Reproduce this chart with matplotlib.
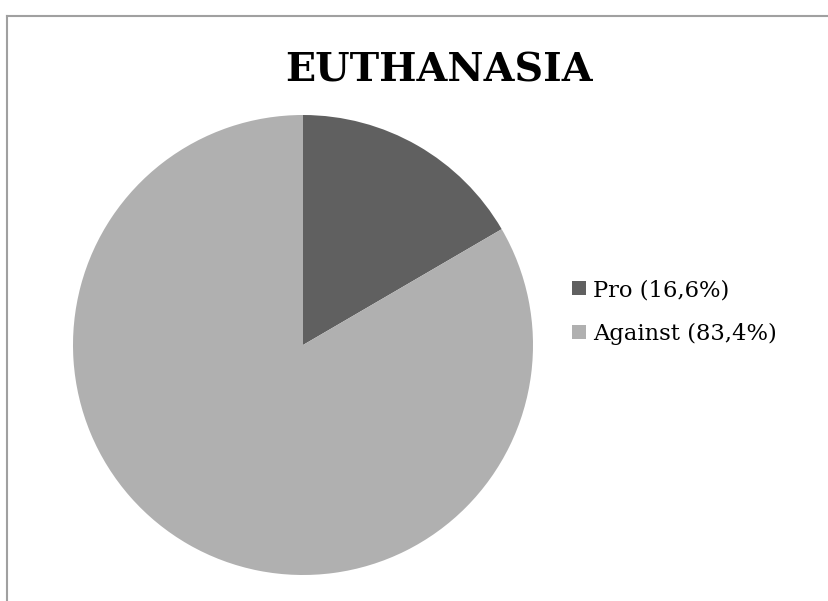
import matplotlib.pyplot as plt
from matplotlib.lines import Line2D
from matplotlib.patches import Patch

labels = ["Pro (16,6%)", "Against (83,4%)"]
values = [16.6, 83.4]
colors = ["#606060", "#b0b0b0"]

W, H = 829, 601
fig = plt.figure(figsize=(W / 100, H / 100), dpi=100)
fig.patch.set_facecolor("white")

# chart frame (cut off at right and bottom)
fig.add_artist(Line2D([7 / W, 7 / W], [0, 1 - 16 / H], color="#a0a0a0", lw=1.5))
fig.add_artist(Line2D([7 / W, 1], [1 - 16 / H, 1 - 16 / H], color="#a0a0a0", lw=1.5))

cx, cy, r = 303, 345, 230
ax = fig.add_axes([(cx - r) / W, (H - cy - r) / H, 2 * r / W, 2 * r / H])
ax.pie(values, colors=colors, startangle=90, counterclock=False, radius=1,
       wedgeprops=dict(linewidth=0))
ax.set_xlim(-1, 1)
ax.set_ylim(-1, 1)
ax.set_aspect("equal")
ax.axis("off")

fig.text(439 / W, 1 - 70 / H, "EUTHANASIA", ha="center", va="center",
         fontsize=28.5, fontweight="bold", family="DejaVu Serif")

handles = [Patch(facecolor=c, edgecolor="none") for c in colors]
fig.legend(handles, labels, loc="upper left", bbox_to_anchor=(552 / W, 1 - 259 / H),
           frameon=False, prop=dict(family="DejaVu Serif", size=16.3),
           handlelength=0.58, handleheight=0.58, handletextpad=0.32, labelspacing=0.95)

plt.savefig("out.png", dpi=100)
